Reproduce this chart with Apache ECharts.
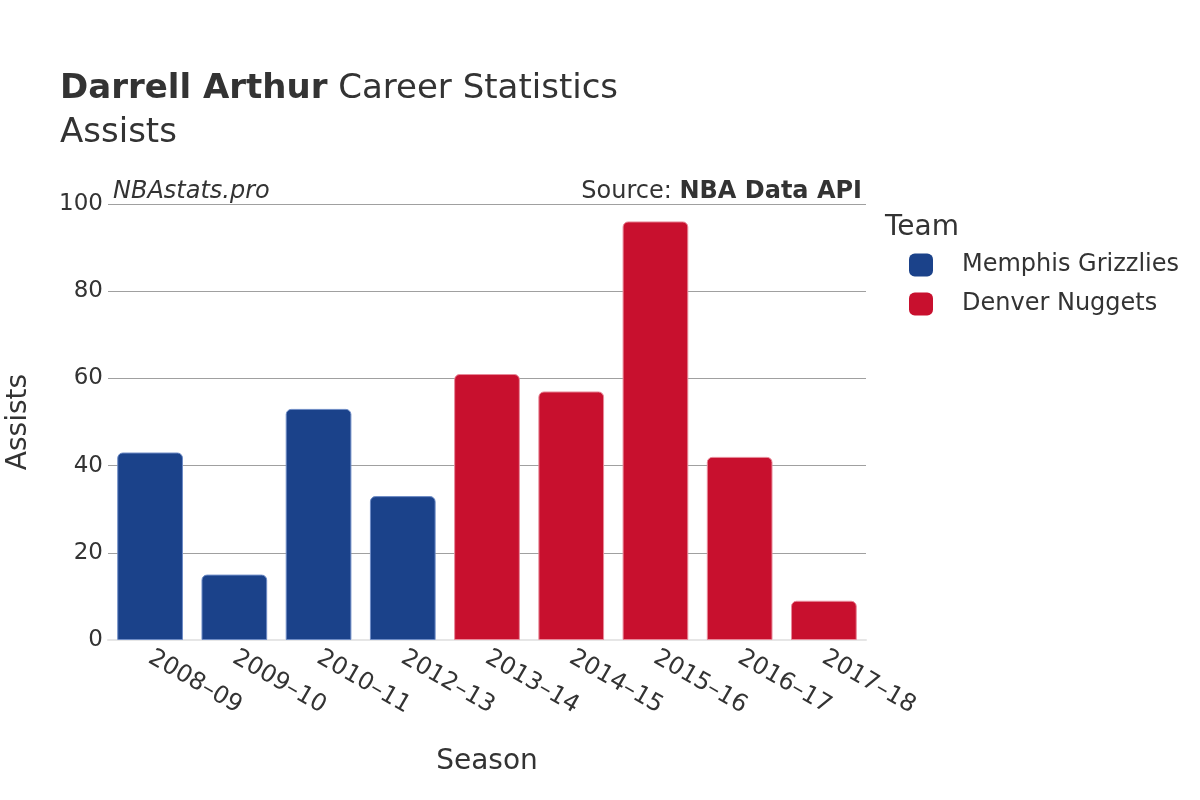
<!DOCTYPE html>
<html><head><meta charset="utf-8">
<script src="https://cdn.jsdelivr.net/npm/echarts@6/dist/echarts.min.js"></script>
<style>html,body{margin:0;padding:0;background:#fff}#c{width:1200px;height:800px}</style>
</head><body><div id="c"></div>
<script>
const seasons = ['2008–09','2009–10','2010–11','2012–13','2013–14','2014–15','2015–16','2016–17','2017–18'];
const memphis = [43, 15, 53, 33, null, null, null, null, null];
const denver = [null, null, null, null, 61, 57, 96, 42, 9];
const yTicks = [0, 20, 40, 60, 80, 100];
const FONT = 'DejaVu Sans';
const chart = echarts.init(document.getElementById('c'), null, {renderer:'canvas'});
const toData = a => a.map(v => v === null ? '-' : v);
chart.setOption({
  animation: false,
  textStyle: {fontFamily: FONT},
  grid: {left: 108, right: 334, top: 204, bottom: 160, containLabel: false, outerBoundsMode: 'none'},
  graphic: [
    {type:'text', left: 60, top: 72, style:{text:'{b|Darrell Arthur}{n| Career Statistics}', rich:{b:{fontFamily:FONT,fontSize:34,fontWeight:'bold',fill:'#333'}, n:{fontFamily:FONT,fontSize:34,fill:'#333'}}}},
    {type:'text', left: 60, top: 116, style:{text:'Assists', fontFamily:FONT, fontSize:34, fill:'#333'}},
    {type:'text', left: 113, top: 180, style:{text:'NBAstats.pro', fontFamily:FONT, fontSize:24, fontStyle:'italic', fill:'#333'}},
    {type:'text', right: 338, top: 180, style:{text:'{n|Source: }{b|NBA Data API}', rich:{n:{fontFamily:FONT,fontSize:24,fill:'#333'}, b:{fontFamily:FONT,fontSize:24,fontWeight:'bold',fill:'#333'}}}},
    {type:'text', left: 885, top: 214, style:{text:'Team', fontFamily:FONT, fontSize:28, fill:'#333'}}
  ],
  legend: {
    orient:'vertical', left: 904, top: 248, itemWidth: 24, itemHeight: 23, itemGap: 15,
    icon: 'roundRect',
    itemStyle:{borderWidth:0},
    textStyle:{fontFamily:FONT, fontSize:24, color:'#333', padding:[0,0,0,24]},
    data:['Memphis Grizzlies','Denver Nuggets']
  },
  xAxis: {
    type:'category', data: seasons,
    name:'Season', nameLocation:'middle', nameGap: 108,
    nameTextStyle:{fontFamily:FONT, fontSize:28, color:'#333'},
    axisLine:{show:true, lineStyle:{color:'#e6e6e6', width:2}},
    axisTick:{show:false},
    axisLabel:{rotate:-30, fontFamily:FONT, fontSize:24, color:'#333', margin:16}
  },
  yAxis: {
    type:'value', min:0, max:100, interval:20,
    name:'Assists', nameLocation:'middle', nameGap: 75,
    nameTextStyle:{fontFamily:FONT, fontSize:28, color:'#333'},
    axisLine:{show:false}, axisTick:{show:false},
    axisLabel:{fontFamily:FONT, fontSize:23, color:'#333', margin:5, formatter: v => yTicks.includes(v) ? String(v) : ''},
    splitLine:{lineStyle:{color:'#a0a0a0', width:1}}
  },
  series: [
    {name:'Memphis Grizzlies', type:'bar', stack:'s', data: toData(memphis), barWidth:'78%',
     itemStyle:{color:'#1b428a', borderColor:'#6e8cc6', borderWidth:1, borderRadius:[5,5,0,0]}},
    {name:'Denver Nuggets', type:'bar', stack:'s', data: toData(denver), barWidth:'78%',
     itemStyle:{color:'#c8102e', borderColor:'#e88a9a', borderWidth:1, borderRadius:[5,5,0,0]}}
  ]
});
</script></body></html>
